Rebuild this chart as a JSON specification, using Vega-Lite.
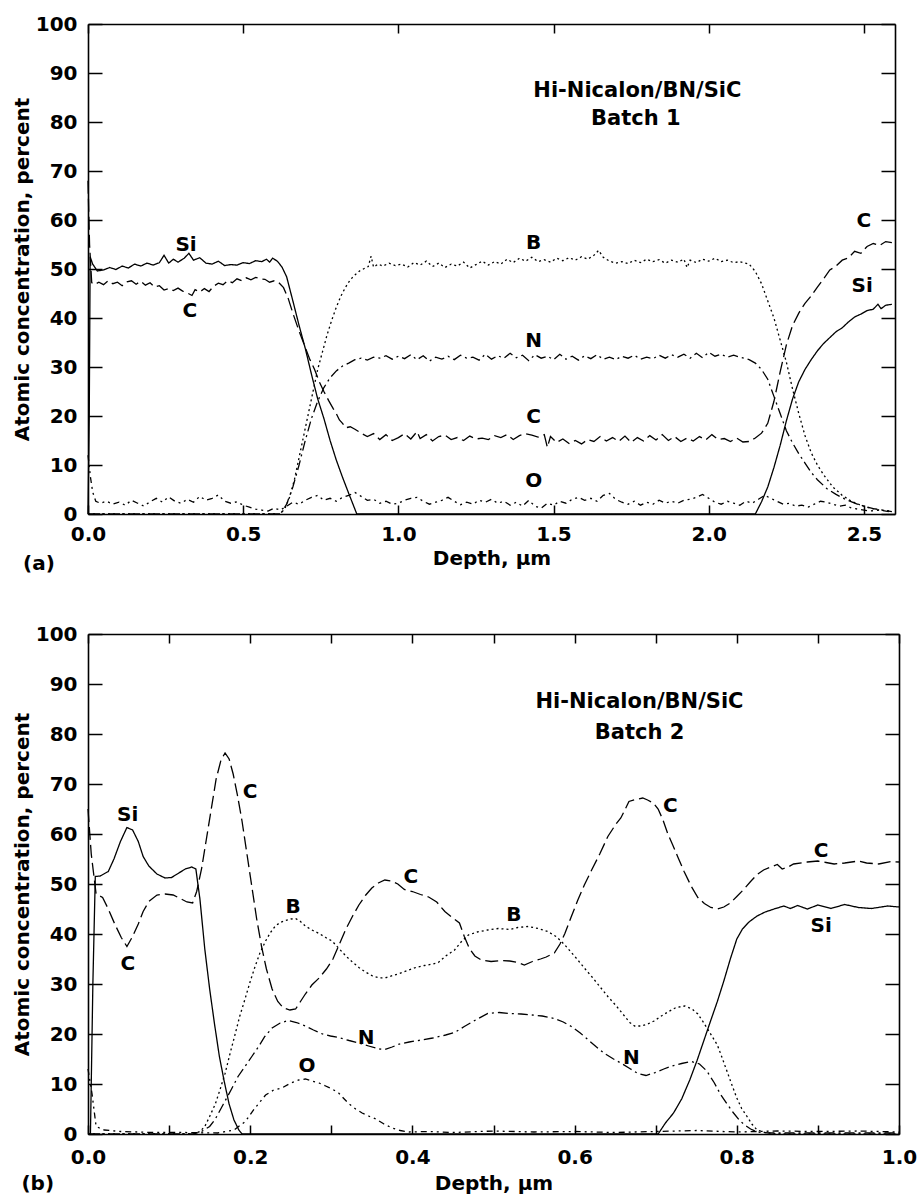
{
"$schema":"https://vega.github.io/schema/vega-lite/v6.json",
"background":"white",
"padding":{"left":12,"top":14,"right":5,"bottom":5},
"spacing":50,
"config":{"view":{"stroke":null},
"axis":{"domainColor":"black","domainWidth":1.6,"tickColor":"black","tickWidth":1.5,"grid":false,"labelFont":"DejaVu Sans","labelFontSize":20,"labelFontWeight":"bold","labelColor":"black","titleFont":"DejaVu Sans","titleFontSize":20,"titleFontWeight":"bold","titleColor":"black","labelFlush":false,"labelOverlap":false,"labelBound":false},
"text":{"font":"DejaVu Sans","fontWeight":"bold","fontSize":20,"color":"black"}},
"datasets":{
"a":[
{"x":0,"y":0,"el":"Si"},{"x":0.004,"y":20,"el":"Si"},{"x":0.007,"y":52.5,"el":"Si"},{"x":0.015,"y":51,"el":"Si"},{"x":0.03,"y":49.6,"el":"Si"},{"x":0.05,"y":49.8,"el":"Si"},{"x":0.07,"y":50.3,"el":"Si"},{"x":0.09,"y":49.9,"el":"Si"},{"x":0.11,"y":50.6,"el":"Si"},{"x":0.13,"y":50.2,"el":"Si"},{"x":0.15,"y":51,"el":"Si"},{"x":0.17,"y":50.6,"el":"Si"},{"x":0.19,"y":51.2,"el":"Si"},{"x":0.21,"y":50.8,"el":"Si"},{"x":0.23,"y":51.3,"el":"Si"},{"x":0.245,"y":52.8,"el":"Si"},{"x":0.26,"y":51.2,"el":"Si"},{"x":0.275,"y":52,"el":"Si"},{"x":0.29,"y":51.4,"el":"Si"},{"x":0.31,"y":52.2,"el":"Si"},{"x":0.325,"y":53.2,"el":"Si"},{"x":0.34,"y":51.8,"el":"Si"},{"x":0.36,"y":52.3,"el":"Si"},{"x":0.38,"y":51.2,"el":"Si"},{"x":0.4,"y":51,"el":"Si"},{"x":0.42,"y":51.6,"el":"Si"},{"x":0.44,"y":50.7,"el":"Si"},{"x":0.46,"y":50.9,"el":"Si"},{"x":0.48,"y":50.8,"el":"Si"},{"x":0.5,"y":51.3,"el":"Si"},{"x":0.52,"y":51.1,"el":"Si"},{"x":0.54,"y":51.7,"el":"Si"},{"x":0.56,"y":51.5,"el":"Si"},{"x":0.575,"y":52,"el":"Si"},{"x":0.585,"y":51.4,"el":"Si"},{"x":0.595,"y":52.2,"el":"Si"},{"x":0.61,"y":51.6,"el":"Si"},{"x":0.625,"y":50.4,"el":"Si"},{"x":0.64,"y":48.4,"el":"Si"},{"x":0.66,"y":43.5,"el":"Si"},{"x":0.68,"y":38.5,"el":"Si"},{"x":0.7,"y":33.8,"el":"Si"},{"x":0.72,"y":28.5,"el":"Si"},{"x":0.74,"y":23.5,"el":"Si"},{"x":0.76,"y":19.5,"el":"Si"},{"x":0.78,"y":15,"el":"Si"},{"x":0.8,"y":11,"el":"Si"},{"x":0.82,"y":7.5,"el":"Si"},{"x":0.84,"y":4.2,"el":"Si"},{"x":0.866,"y":0,"el":"Si"},{"x":2.15,"y":0,"el":"Si"},{"x":2.17,"y":2.5,"el":"Si"},{"x":2.19,"y":5.5,"el":"Si"},{"x":2.21,"y":9.5,"el":"Si"},{"x":2.23,"y":14,"el":"Si"},{"x":2.25,"y":19,"el":"Si"},{"x":2.27,"y":23.5,"el":"Si"},{"x":2.29,"y":27,"el":"Si"},{"x":2.31,"y":29.5,"el":"Si"},{"x":2.33,"y":31.5,"el":"Si"},{"x":2.35,"y":33.3,"el":"Si"},{"x":2.37,"y":34.8,"el":"Si"},{"x":2.39,"y":36,"el":"Si"},{"x":2.41,"y":37.2,"el":"Si"},{"x":2.43,"y":38,"el":"Si"},{"x":2.45,"y":39.2,"el":"Si"},{"x":2.47,"y":40.2,"el":"Si"},{"x":2.49,"y":40.8,"el":"Si"},{"x":2.51,"y":41.5,"el":"Si"},{"x":2.53,"y":41.8,"el":"Si"},{"x":2.545,"y":42.8,"el":"Si"},{"x":2.555,"y":41.9,"el":"Si"},{"x":2.57,"y":42.6,"el":"Si"},{"x":2.59,"y":42.8,"el":"Si"},
{"x":0,"y":68,"el":"C"},{"x":0.005,"y":55,"el":"C"},{"x":0.012,"y":47.2,"el":"C"},{"x":0.02,"y":46.8,"el":"C"},{"x":0.035,"y":47.3,"el":"C"},{"x":0.05,"y":46.8,"el":"C"},{"x":0.065,"y":47.6,"el":"C"},{"x":0.08,"y":47,"el":"C"},{"x":0.095,"y":47.3,"el":"C"},{"x":0.11,"y":46.6,"el":"C"},{"x":0.125,"y":47.4,"el":"C"},{"x":0.14,"y":47.6,"el":"C"},{"x":0.155,"y":46.9,"el":"C"},{"x":0.17,"y":47.5,"el":"C"},{"x":0.185,"y":46.7,"el":"C"},{"x":0.2,"y":47.2,"el":"C"},{"x":0.215,"y":46.3,"el":"C"},{"x":0.23,"y":46.6,"el":"C"},{"x":0.245,"y":45.7,"el":"C"},{"x":0.26,"y":46,"el":"C"},{"x":0.275,"y":45.6,"el":"C"},{"x":0.29,"y":46.1,"el":"C"},{"x":0.305,"y":45.5,"el":"C"},{"x":0.32,"y":45.1,"el":"C"},{"x":0.335,"y":44.6,"el":"C"},{"x":0.345,"y":45.8,"el":"C"},{"x":0.36,"y":45.3,"el":"C"},{"x":0.375,"y":46,"el":"C"},{"x":0.39,"y":45.4,"el":"C"},{"x":0.405,"y":46.5,"el":"C"},{"x":0.42,"y":47.1,"el":"C"},{"x":0.435,"y":46.8,"el":"C"},{"x":0.45,"y":47.6,"el":"C"},{"x":0.465,"y":47.2,"el":"C"},{"x":0.48,"y":48,"el":"C"},{"x":0.495,"y":47.6,"el":"C"},{"x":0.51,"y":48.2,"el":"C"},{"x":0.525,"y":47.8,"el":"C"},{"x":0.54,"y":48.3,"el":"C"},{"x":0.555,"y":48,"el":"C"},{"x":0.57,"y":47.9,"el":"C"},{"x":0.585,"y":47.3,"el":"C"},{"x":0.6,"y":47.6,"el":"C"},{"x":0.615,"y":47.2,"el":"C"},{"x":0.63,"y":46.2,"el":"C"},{"x":0.645,"y":44,"el":"C"},{"x":0.66,"y":41,"el":"C"},{"x":0.68,"y":37.3,"el":"C"},{"x":0.7,"y":34,"el":"C"},{"x":0.715,"y":31.5,"el":"C"},{"x":0.73,"y":29.5,"el":"C"},{"x":0.745,"y":27,"el":"C"},{"x":0.76,"y":25,"el":"C"},{"x":0.775,"y":23.2,"el":"C"},{"x":0.79,"y":21.5,"el":"C"},{"x":0.8,"y":20.5,"el":"C"},{"x":0.81,"y":19.2,"el":"C"},{"x":0.82,"y":18.5,"el":"C"},{"x":0.83,"y":17.6,"el":"C"},{"x":0.845,"y":17.8,"el":"C"},{"x":0.86,"y":17.3,"el":"C"},{"x":0.88,"y":16.5,"el":"C"},{"x":0.9,"y":15.8,"el":"C"},{"x":0.92,"y":16.4,"el":"C"},{"x":0.94,"y":15.2,"el":"C"},{"x":0.96,"y":16.2,"el":"C"},{"x":0.98,"y":15,"el":"C"},{"x":1.0,"y":15.6,"el":"C"},{"x":1.02,"y":16.4,"el":"C"},{"x":1.04,"y":15.3,"el":"C"},{"x":1.06,"y":16.8,"el":"C"},{"x":1.07,"y":15.4,"el":"C"},{"x":1.09,"y":16.2,"el":"C"},{"x":1.11,"y":14.9,"el":"C"},{"x":1.13,"y":15.8,"el":"C"},{"x":1.15,"y":16.1,"el":"C"},{"x":1.17,"y":15.2,"el":"C"},{"x":1.19,"y":15.6,"el":"C"},{"x":1.21,"y":15,"el":"C"},{"x":1.23,"y":15.9,"el":"C"},{"x":1.25,"y":15.3,"el":"C"},{"x":1.27,"y":15.5,"el":"C"},{"x":1.29,"y":15.2,"el":"C"},{"x":1.31,"y":16,"el":"C"},{"x":1.33,"y":15.6,"el":"C"},{"x":1.35,"y":16.2,"el":"C"},{"x":1.37,"y":15.2,"el":"C"},{"x":1.39,"y":16,"el":"C"},{"x":1.41,"y":16.4,"el":"C"},{"x":1.43,"y":16.1,"el":"C"},{"x":1.45,"y":15.7,"el":"C"},{"x":1.47,"y":16.2,"el":"C"},{"x":1.48,"y":13.6,"el":"C"},{"x":1.49,"y":15.8,"el":"C"},{"x":1.51,"y":14.6,"el":"C"},{"x":1.53,"y":15.3,"el":"C"},{"x":1.55,"y":14.4,"el":"C"},{"x":1.57,"y":15,"el":"C"},{"x":1.59,"y":14.3,"el":"C"},{"x":1.61,"y":15.2,"el":"C"},{"x":1.63,"y":14.8,"el":"C"},{"x":1.65,"y":15.8,"el":"C"},{"x":1.67,"y":14.9,"el":"C"},{"x":1.69,"y":15.6,"el":"C"},{"x":1.71,"y":14.8,"el":"C"},{"x":1.73,"y":15.9,"el":"C"},{"x":1.75,"y":14.6,"el":"C"},{"x":1.77,"y":15.6,"el":"C"},{"x":1.79,"y":14.9,"el":"C"},{"x":1.81,"y":16,"el":"C"},{"x":1.83,"y":15.1,"el":"C"},{"x":1.85,"y":16.2,"el":"C"},{"x":1.87,"y":15,"el":"C"},{"x":1.89,"y":15.8,"el":"C"},{"x":1.91,"y":14.8,"el":"C"},{"x":1.93,"y":15.5,"el":"C"},{"x":1.95,"y":14.9,"el":"C"},{"x":1.97,"y":15.8,"el":"C"},{"x":1.99,"y":15.1,"el":"C"},{"x":2.01,"y":16.2,"el":"C"},{"x":2.03,"y":15.2,"el":"C"},{"x":2.05,"y":15.4,"el":"C"},{"x":2.07,"y":14.8,"el":"C"},{"x":2.09,"y":15.5,"el":"C"},{"x":2.11,"y":14.7,"el":"C"},{"x":2.13,"y":14.8,"el":"C"},{"x":2.15,"y":15.5,"el":"C"},{"x":2.17,"y":16.5,"el":"C"},{"x":2.19,"y":18.5,"el":"C"},{"x":2.21,"y":23,"el":"C"},{"x":2.23,"y":29,"el":"C"},{"x":2.25,"y":34.5,"el":"C"},{"x":2.27,"y":38.5,"el":"C"},{"x":2.29,"y":41,"el":"C"},{"x":2.31,"y":43,"el":"C"},{"x":2.33,"y":44.5,"el":"C"},{"x":2.35,"y":46.3,"el":"C"},{"x":2.37,"y":48,"el":"C"},{"x":2.39,"y":49.8,"el":"C"},{"x":2.41,"y":50.6,"el":"C"},{"x":2.43,"y":51.8,"el":"C"},{"x":2.45,"y":52.3,"el":"C"},{"x":2.47,"y":53.6,"el":"C"},{"x":2.49,"y":53.2,"el":"C"},{"x":2.51,"y":54.6,"el":"C"},{"x":2.53,"y":55.2,"el":"C"},{"x":2.55,"y":54.8,"el":"C"},{"x":2.57,"y":55.6,"el":"C"},{"x":2.59,"y":55.4,"el":"C"},
{"x":0,"y":0,"el":"B"},{"x":0.62,"y":0,"el":"B"},{"x":0.635,"y":1.2,"el":"B"},{"x":0.65,"y":3.5,"el":"B"},{"x":0.665,"y":7,"el":"B"},{"x":0.68,"y":11.5,"el":"B"},{"x":0.695,"y":16,"el":"B"},{"x":0.71,"y":20.5,"el":"B"},{"x":0.725,"y":25,"el":"B"},{"x":0.74,"y":29.5,"el":"B"},{"x":0.755,"y":33,"el":"B"},{"x":0.77,"y":36.5,"el":"B"},{"x":0.785,"y":39.5,"el":"B"},{"x":0.8,"y":42.2,"el":"B"},{"x":0.815,"y":44.5,"el":"B"},{"x":0.83,"y":46.3,"el":"B"},{"x":0.845,"y":47.8,"el":"B"},{"x":0.86,"y":48.8,"el":"B"},{"x":0.875,"y":49.6,"el":"B"},{"x":0.89,"y":50.1,"el":"B"},{"x":0.903,"y":50.5,"el":"B"},{"x":0.912,"y":52.6,"el":"B"},{"x":0.92,"y":50.4,"el":"B"},{"x":0.935,"y":51,"el":"B"},{"x":0.95,"y":50.6,"el":"B"},{"x":0.97,"y":51.2,"el":"B"},{"x":0.99,"y":50.7,"el":"B"},{"x":1.01,"y":51,"el":"B"},{"x":1.03,"y":50.4,"el":"B"},{"x":1.05,"y":51.3,"el":"B"},{"x":1.07,"y":50.8,"el":"B"},{"x":1.09,"y":51.6,"el":"B"},{"x":1.11,"y":50.5,"el":"B"},{"x":1.13,"y":51.2,"el":"B"},{"x":1.15,"y":50.3,"el":"B"},{"x":1.17,"y":51,"el":"B"},{"x":1.19,"y":50.6,"el":"B"},{"x":1.21,"y":51.4,"el":"B"},{"x":1.23,"y":50.2,"el":"B"},{"x":1.25,"y":50.9,"el":"B"},{"x":1.27,"y":51.6,"el":"B"},{"x":1.29,"y":50.8,"el":"B"},{"x":1.31,"y":51.5,"el":"B"},{"x":1.33,"y":51,"el":"B"},{"x":1.35,"y":52,"el":"B"},{"x":1.37,"y":51.3,"el":"B"},{"x":1.39,"y":52.2,"el":"B"},{"x":1.41,"y":51.6,"el":"B"},{"x":1.43,"y":52.4,"el":"B"},{"x":1.45,"y":51.5,"el":"B"},{"x":1.47,"y":51.9,"el":"B"},{"x":1.49,"y":51.4,"el":"B"},{"x":1.51,"y":52.2,"el":"B"},{"x":1.53,"y":51.7,"el":"B"},{"x":1.55,"y":52.3,"el":"B"},{"x":1.57,"y":51.8,"el":"B"},{"x":1.59,"y":52.5,"el":"B"},{"x":1.61,"y":52,"el":"B"},{"x":1.63,"y":52.8,"el":"B"},{"x":1.645,"y":53.8,"el":"B"},{"x":1.66,"y":52.4,"el":"B"},{"x":1.68,"y":51.6,"el":"B"},{"x":1.7,"y":51.2,"el":"B"},{"x":1.72,"y":51.5,"el":"B"},{"x":1.74,"y":51.1,"el":"B"},{"x":1.76,"y":51.8,"el":"B"},{"x":1.78,"y":51.3,"el":"B"},{"x":1.8,"y":52,"el":"B"},{"x":1.82,"y":51.5,"el":"B"},{"x":1.84,"y":51.9,"el":"B"},{"x":1.86,"y":51.2,"el":"B"},{"x":1.88,"y":51.8,"el":"B"},{"x":1.9,"y":51.4,"el":"B"},{"x":1.92,"y":52,"el":"B"},{"x":1.93,"y":50.3,"el":"B"},{"x":1.94,"y":51.8,"el":"B"},{"x":1.96,"y":51.3,"el":"B"},{"x":1.98,"y":52,"el":"B"},{"x":2.0,"y":51.6,"el":"B"},{"x":2.02,"y":52.2,"el":"B"},{"x":2.04,"y":51.5,"el":"B"},{"x":2.06,"y":51.8,"el":"B"},{"x":2.08,"y":51.3,"el":"B"},{"x":2.1,"y":51.5,"el":"B"},{"x":2.13,"y":51,"el":"B"},{"x":2.15,"y":49.5,"el":"B"},{"x":2.17,"y":47,"el":"B"},{"x":2.19,"y":43.5,"el":"B"},{"x":2.21,"y":40,"el":"B"},{"x":2.23,"y":35.5,"el":"B"},{"x":2.25,"y":31,"el":"B"},{"x":2.27,"y":25.5,"el":"B"},{"x":2.29,"y":20.5,"el":"B"},{"x":2.31,"y":16,"el":"B"},{"x":2.33,"y":12.5,"el":"B"},{"x":2.35,"y":10,"el":"B"},{"x":2.37,"y":8,"el":"B"},{"x":2.4,"y":5.5,"el":"B"},{"x":2.43,"y":3.8,"el":"B"},{"x":2.46,"y":2.6,"el":"B"},{"x":2.49,"y":1.8,"el":"B"},{"x":2.52,"y":1.2,"el":"B"},{"x":2.55,"y":0.8,"el":"B"},{"x":2.59,"y":0.6,"el":"B"},
{"x":0,"y":0,"el":"N"},{"x":0.62,"y":0,"el":"N"},{"x":0.64,"y":2,"el":"N"},{"x":0.66,"y":5.5,"el":"N"},{"x":0.68,"y":10,"el":"N"},{"x":0.7,"y":15,"el":"N"},{"x":0.72,"y":19.5,"el":"N"},{"x":0.74,"y":23,"el":"N"},{"x":0.76,"y":25.8,"el":"N"},{"x":0.78,"y":27.8,"el":"N"},{"x":0.8,"y":29.2,"el":"N"},{"x":0.82,"y":30.2,"el":"N"},{"x":0.84,"y":30.8,"el":"N"},{"x":0.86,"y":31.5,"el":"N"},{"x":0.88,"y":31.8,"el":"N"},{"x":0.9,"y":31.4,"el":"N"},{"x":0.92,"y":32,"el":"N"},{"x":0.94,"y":31.8,"el":"N"},{"x":0.96,"y":32.3,"el":"N"},{"x":0.98,"y":31.6,"el":"N"},{"x":1.0,"y":32.2,"el":"N"},{"x":1.02,"y":31.7,"el":"N"},{"x":1.04,"y":32.5,"el":"N"},{"x":1.06,"y":31.5,"el":"N"},{"x":1.08,"y":32.3,"el":"N"},{"x":1.1,"y":31.2,"el":"N"},{"x":1.12,"y":32,"el":"N"},{"x":1.14,"y":31.6,"el":"N"},{"x":1.16,"y":32.2,"el":"N"},{"x":1.18,"y":31.5,"el":"N"},{"x":1.2,"y":32.4,"el":"N"},{"x":1.22,"y":31.8,"el":"N"},{"x":1.24,"y":32,"el":"N"},{"x":1.26,"y":31.4,"el":"N"},{"x":1.28,"y":32.6,"el":"N"},{"x":1.3,"y":31.6,"el":"N"},{"x":1.32,"y":32.3,"el":"N"},{"x":1.34,"y":31.8,"el":"N"},{"x":1.36,"y":32.8,"el":"N"},{"x":1.38,"y":31.9,"el":"N"},{"x":1.4,"y":32.4,"el":"N"},{"x":1.42,"y":31.3,"el":"N"},{"x":1.44,"y":32.5,"el":"N"},{"x":1.46,"y":31.8,"el":"N"},{"x":1.48,"y":32.2,"el":"N"},{"x":1.5,"y":31.5,"el":"N"},{"x":1.52,"y":32.6,"el":"N"},{"x":1.54,"y":31.6,"el":"N"},{"x":1.56,"y":32.2,"el":"N"},{"x":1.58,"y":31.4,"el":"N"},{"x":1.6,"y":32.3,"el":"N"},{"x":1.62,"y":31.7,"el":"N"},{"x":1.64,"y":32.5,"el":"N"},{"x":1.66,"y":31.6,"el":"N"},{"x":1.68,"y":32,"el":"N"},{"x":1.7,"y":31.5,"el":"N"},{"x":1.72,"y":32.2,"el":"N"},{"x":1.74,"y":31.8,"el":"N"},{"x":1.76,"y":32.4,"el":"N"},{"x":1.78,"y":31.6,"el":"N"},{"x":1.8,"y":32,"el":"N"},{"x":1.82,"y":31.7,"el":"N"},{"x":1.84,"y":32.4,"el":"N"},{"x":1.86,"y":31.8,"el":"N"},{"x":1.88,"y":32.5,"el":"N"},{"x":1.9,"y":32,"el":"N"},{"x":1.92,"y":32.6,"el":"N"},{"x":1.94,"y":31.8,"el":"N"},{"x":1.96,"y":32.8,"el":"N"},{"x":1.98,"y":31.9,"el":"N"},{"x":2.0,"y":33,"el":"N"},{"x":2.02,"y":32.2,"el":"N"},{"x":2.04,"y":32.6,"el":"N"},{"x":2.06,"y":32,"el":"N"},{"x":2.08,"y":32.4,"el":"N"},{"x":2.1,"y":32,"el":"N"},{"x":2.13,"y":31.5,"el":"N"},{"x":2.15,"y":30.8,"el":"N"},{"x":2.17,"y":29.5,"el":"N"},{"x":2.19,"y":27.5,"el":"N"},{"x":2.21,"y":24,"el":"N"},{"x":2.23,"y":20.5,"el":"N"},{"x":2.25,"y":17,"el":"N"},{"x":2.27,"y":14.5,"el":"N"},{"x":2.29,"y":12.3,"el":"N"},{"x":2.31,"y":10.4,"el":"N"},{"x":2.33,"y":8.5,"el":"N"},{"x":2.35,"y":7,"el":"N"},{"x":2.38,"y":5.2,"el":"N"},{"x":2.41,"y":4,"el":"N"},{"x":2.44,"y":3,"el":"N"},{"x":2.47,"y":2.2,"el":"N"},{"x":2.5,"y":1.6,"el":"N"},{"x":2.53,"y":1.1,"el":"N"},{"x":2.56,"y":0.8,"el":"N"},{"x":2.59,"y":0.5,"el":"N"},
{"x":0,"y":12,"el":"O"},{"x":0.008,"y":7.5,"el":"O"},{"x":0.015,"y":4.5,"el":"O"},{"x":0.025,"y":2.6,"el":"O"},{"x":0.04,"y":2.2,"el":"O"},{"x":0.06,"y":2.6,"el":"O"},{"x":0.08,"y":2,"el":"O"},{"x":0.1,"y":2.4,"el":"O"},{"x":0.12,"y":1.8,"el":"O"},{"x":0.14,"y":2.8,"el":"O"},{"x":0.16,"y":2.2,"el":"O"},{"x":0.18,"y":1.6,"el":"O"},{"x":0.2,"y":2.5,"el":"O"},{"x":0.22,"y":3.2,"el":"O"},{"x":0.24,"y":2.4,"el":"O"},{"x":0.26,"y":3.5,"el":"O"},{"x":0.28,"y":2.6,"el":"O"},{"x":0.3,"y":2.2,"el":"O"},{"x":0.32,"y":3,"el":"O"},{"x":0.34,"y":2.4,"el":"O"},{"x":0.36,"y":3.6,"el":"O"},{"x":0.38,"y":2.8,"el":"O"},{"x":0.4,"y":3.2,"el":"O"},{"x":0.42,"y":3.9,"el":"O"},{"x":0.44,"y":2.6,"el":"O"},{"x":0.46,"y":2.2,"el":"O"},{"x":0.48,"y":2.5,"el":"O"},{"x":0.5,"y":1.8,"el":"O"},{"x":0.52,"y":1.4,"el":"O"},{"x":0.54,"y":1,"el":"O"},{"x":0.56,"y":0.8,"el":"O"},{"x":0.58,"y":0.6,"el":"O"},{"x":0.6,"y":1.2,"el":"O"},{"x":0.62,"y":0.8,"el":"O"},{"x":0.64,"y":1.6,"el":"O"},{"x":0.66,"y":2.4,"el":"O"},{"x":0.68,"y":2,"el":"O"},{"x":0.7,"y":2.8,"el":"O"},{"x":0.72,"y":3.4,"el":"O"},{"x":0.74,"y":3.8,"el":"O"},{"x":0.76,"y":2.8,"el":"O"},{"x":0.78,"y":3.2,"el":"O"},{"x":0.8,"y":2.6,"el":"O"},{"x":0.82,"y":3.4,"el":"O"},{"x":0.84,"y":3.8,"el":"O"},{"x":0.86,"y":4.4,"el":"O"},{"x":0.88,"y":3.6,"el":"O"},{"x":0.9,"y":2.8,"el":"O"},{"x":0.92,"y":3,"el":"O"},{"x":0.94,"y":2.2,"el":"O"},{"x":0.96,"y":2.6,"el":"O"},{"x":0.98,"y":2,"el":"O"},{"x":1.0,"y":2.2,"el":"O"},{"x":1.02,"y":2.8,"el":"O"},{"x":1.04,"y":3.2,"el":"O"},{"x":1.06,"y":3.4,"el":"O"},{"x":1.08,"y":2.6,"el":"O"},{"x":1.1,"y":2,"el":"O"},{"x":1.12,"y":2.4,"el":"O"},{"x":1.14,"y":2.8,"el":"O"},{"x":1.16,"y":3.4,"el":"O"},{"x":1.18,"y":2.6,"el":"O"},{"x":1.2,"y":1.9,"el":"O"},{"x":1.22,"y":2.4,"el":"O"},{"x":1.24,"y":2,"el":"O"},{"x":1.26,"y":2.8,"el":"O"},{"x":1.28,"y":2.4,"el":"O"},{"x":1.3,"y":3,"el":"O"},{"x":1.32,"y":2.2,"el":"O"},{"x":1.34,"y":2.6,"el":"O"},{"x":1.36,"y":1.8,"el":"O"},{"x":1.38,"y":2.4,"el":"O"},{"x":1.4,"y":1.6,"el":"O"},{"x":1.42,"y":2.8,"el":"O"},{"x":1.44,"y":1.6,"el":"O"},{"x":1.46,"y":1.2,"el":"O"},{"x":1.48,"y":2.2,"el":"O"},{"x":1.5,"y":1.8,"el":"O"},{"x":1.52,"y":2.6,"el":"O"},{"x":1.54,"y":2.2,"el":"O"},{"x":1.56,"y":3,"el":"O"},{"x":1.58,"y":3.4,"el":"O"},{"x":1.6,"y":2.8,"el":"O"},{"x":1.62,"y":3.2,"el":"O"},{"x":1.64,"y":2.6,"el":"O"},{"x":1.66,"y":3.8,"el":"O"},{"x":1.68,"y":4.2,"el":"O"},{"x":1.7,"y":3,"el":"O"},{"x":1.72,"y":2.4,"el":"O"},{"x":1.74,"y":2,"el":"O"},{"x":1.76,"y":2.6,"el":"O"},{"x":1.78,"y":1.8,"el":"O"},{"x":1.8,"y":2.4,"el":"O"},{"x":1.82,"y":2,"el":"O"},{"x":1.84,"y":2.8,"el":"O"},{"x":1.86,"y":2.2,"el":"O"},{"x":1.88,"y":2.6,"el":"O"},{"x":1.9,"y":2.2,"el":"O"},{"x":1.92,"y":2.8,"el":"O"},{"x":1.94,"y":3,"el":"O"},{"x":1.96,"y":3.4,"el":"O"},{"x":1.98,"y":4,"el":"O"},{"x":2.0,"y":3.2,"el":"O"},{"x":2.02,"y":2.4,"el":"O"},{"x":2.04,"y":2,"el":"O"},{"x":2.06,"y":2.6,"el":"O"},{"x":2.08,"y":2.2,"el":"O"},{"x":2.1,"y":1.8,"el":"O"},{"x":2.12,"y":2.6,"el":"O"},{"x":2.14,"y":2.2,"el":"O"},{"x":2.16,"y":3,"el":"O"},{"x":2.18,"y":3.8,"el":"O"},{"x":2.2,"y":3.2,"el":"O"},{"x":2.22,"y":2.6,"el":"O"},{"x":2.24,"y":2,"el":"O"},{"x":2.26,"y":2.2,"el":"O"},{"x":2.28,"y":1.6,"el":"O"},{"x":2.3,"y":1.8,"el":"O"},{"x":2.32,"y":1.4,"el":"O"},{"x":2.34,"y":2,"el":"O"},{"x":2.36,"y":2.6,"el":"O"},{"x":2.38,"y":2.4,"el":"O"},{"x":2.4,"y":2,"el":"O"},{"x":2.42,"y":1.6,"el":"O"},{"x":2.44,"y":1.8,"el":"O"},{"x":2.46,"y":1.2,"el":"O"},{"x":2.48,"y":1,"el":"O"},{"x":2.5,"y":0.8,"el":"O"},{"x":2.52,"y":0.6,"el":"O"},{"x":2.55,"y":0.8,"el":"O"},{"x":2.59,"y":0.4,"el":"O"}
],
"b":[
{"x":0,"y":0,"el":"Si"},{"x":0.003,"y":0,"el":"Si"},{"x":0.006,"y":30,"el":"Si"},{"x":0.009,"y":51.5,"el":"Si"},{"x":0.015,"y":51.6,"el":"Si"},{"x":0.025,"y":52.5,"el":"Si"},{"x":0.032,"y":55,"el":"Si"},{"x":0.04,"y":58.5,"el":"Si"},{"x":0.048,"y":61.3,"el":"Si"},{"x":0.055,"y":60.8,"el":"Si"},{"x":0.062,"y":58.5,"el":"Si"},{"x":0.068,"y":55.5,"el":"Si"},{"x":0.075,"y":53.6,"el":"Si"},{"x":0.085,"y":52,"el":"Si"},{"x":0.095,"y":51.2,"el":"Si"},{"x":0.103,"y":51.3,"el":"Si"},{"x":0.112,"y":52.2,"el":"Si"},{"x":0.12,"y":53,"el":"Si"},{"x":0.128,"y":53.4,"el":"Si"},{"x":0.133,"y":53,"el":"Si"},{"x":0.138,"y":47,"el":"Si"},{"x":0.144,"y":37,"el":"Si"},{"x":0.15,"y":29,"el":"Si"},{"x":0.156,"y":22,"el":"Si"},{"x":0.162,"y":15.5,"el":"Si"},{"x":0.168,"y":10.5,"el":"Si"},{"x":0.174,"y":6,"el":"Si"},{"x":0.18,"y":2.8,"el":"Si"},{"x":0.186,"y":0.8,"el":"Si"},{"x":0.19,"y":0,"el":"Si"},{"x":0.703,"y":0,"el":"Si"},{"x":0.712,"y":2.2,"el":"Si"},{"x":0.722,"y":4.2,"el":"Si"},{"x":0.732,"y":7,"el":"Si"},{"x":0.742,"y":10.8,"el":"Si"},{"x":0.751,"y":14.7,"el":"Si"},{"x":0.759,"y":18.5,"el":"Si"},{"x":0.767,"y":22.3,"el":"Si"},{"x":0.776,"y":26.5,"el":"Si"},{"x":0.784,"y":30.6,"el":"Si"},{"x":0.792,"y":35,"el":"Si"},{"x":0.8,"y":39,"el":"Si"},{"x":0.807,"y":41,"el":"Si"},{"x":0.815,"y":42.4,"el":"Si"},{"x":0.825,"y":43.6,"el":"Si"},{"x":0.835,"y":44.4,"el":"Si"},{"x":0.846,"y":45,"el":"Si"},{"x":0.858,"y":45.6,"el":"Si"},{"x":0.866,"y":45.1,"el":"Si"},{"x":0.875,"y":45.7,"el":"Si"},{"x":0.887,"y":45,"el":"Si"},{"x":0.9,"y":45.8,"el":"Si"},{"x":0.916,"y":45.1,"el":"Si"},{"x":0.933,"y":45.9,"el":"Si"},{"x":0.95,"y":45.3,"el":"Si"},{"x":0.966,"y":45.1,"el":"Si"},{"x":0.986,"y":45.6,"el":"Si"},{"x":1.0,"y":45.4,"el":"Si"},
{"x":0,"y":65,"el":"C"},{"x":0.004,"y":56,"el":"C"},{"x":0.01,"y":48,"el":"C"},{"x":0.018,"y":47.3,"el":"C"},{"x":0.025,"y":45,"el":"C"},{"x":0.033,"y":42,"el":"C"},{"x":0.041,"y":39.3,"el":"C"},{"x":0.048,"y":37.5,"el":"C"},{"x":0.055,"y":39.5,"el":"C"},{"x":0.062,"y":42,"el":"C"},{"x":0.068,"y":44.5,"el":"C"},{"x":0.075,"y":46.5,"el":"C"},{"x":0.085,"y":47.8,"el":"C"},{"x":0.095,"y":48,"el":"C"},{"x":0.105,"y":47.8,"el":"C"},{"x":0.115,"y":47,"el":"C"},{"x":0.122,"y":46.4,"el":"C"},{"x":0.129,"y":46.2,"el":"C"},{"x":0.134,"y":48.5,"el":"C"},{"x":0.14,"y":53,"el":"C"},{"x":0.146,"y":59,"el":"C"},{"x":0.152,"y":65,"el":"C"},{"x":0.158,"y":71,"el":"C"},{"x":0.164,"y":74.8,"el":"C"},{"x":0.169,"y":76.2,"el":"C"},{"x":0.174,"y":75,"el":"C"},{"x":0.179,"y":72,"el":"C"},{"x":0.184,"y":68,"el":"C"},{"x":0.19,"y":62.5,"el":"C"},{"x":0.196,"y":56,"el":"C"},{"x":0.202,"y":49.5,"el":"C"},{"x":0.208,"y":43,"el":"C"},{"x":0.214,"y":37.5,"el":"C"},{"x":0.22,"y":33,"el":"C"},{"x":0.227,"y":29,"el":"C"},{"x":0.234,"y":26.5,"el":"C"},{"x":0.241,"y":25.2,"el":"C"},{"x":0.249,"y":24.8,"el":"C"},{"x":0.256,"y":25,"el":"C"},{"x":0.262,"y":26.5,"el":"C"},{"x":0.268,"y":28,"el":"C"},{"x":0.276,"y":29.8,"el":"C"},{"x":0.285,"y":31.2,"el":"C"},{"x":0.294,"y":33,"el":"C"},{"x":0.302,"y":35,"el":"C"},{"x":0.31,"y":38,"el":"C"},{"x":0.318,"y":41,"el":"C"},{"x":0.326,"y":43.5,"el":"C"},{"x":0.334,"y":45.8,"el":"C"},{"x":0.342,"y":47.7,"el":"C"},{"x":0.35,"y":49.2,"el":"C"},{"x":0.358,"y":50.2,"el":"C"},{"x":0.366,"y":50.8,"el":"C"},{"x":0.374,"y":50.6,"el":"C"},{"x":0.382,"y":50,"el":"C"},{"x":0.39,"y":48.9,"el":"C"},{"x":0.4,"y":48.5,"el":"C"},{"x":0.41,"y":47.9,"el":"C"},{"x":0.42,"y":47.4,"el":"C"},{"x":0.43,"y":46.4,"el":"C"},{"x":0.44,"y":44.5,"el":"C"},{"x":0.45,"y":43.2,"el":"C"},{"x":0.458,"y":42.2,"el":"C"},{"x":0.464,"y":39.5,"el":"C"},{"x":0.47,"y":37.2,"el":"C"},{"x":0.477,"y":35.6,"el":"C"},{"x":0.485,"y":34.8,"el":"C"},{"x":0.497,"y":34.5,"el":"C"},{"x":0.51,"y":34.7,"el":"C"},{"x":0.52,"y":34.6,"el":"C"},{"x":0.53,"y":34.3,"el":"C"},{"x":0.538,"y":33.8,"el":"C"},{"x":0.548,"y":34.5,"el":"C"},{"x":0.558,"y":35,"el":"C"},{"x":0.565,"y":35.4,"el":"C"},{"x":0.575,"y":36.2,"el":"C"},{"x":0.582,"y":38,"el":"C"},{"x":0.588,"y":40.1,"el":"C"},{"x":0.596,"y":43.5,"el":"C"},{"x":0.604,"y":46.8,"el":"C"},{"x":0.612,"y":49.8,"el":"C"},{"x":0.621,"y":52.8,"el":"C"},{"x":0.631,"y":56,"el":"C"},{"x":0.641,"y":59.5,"el":"C"},{"x":0.651,"y":62,"el":"C"},{"x":0.657,"y":63.2,"el":"C"},{"x":0.662,"y":64.8,"el":"C"},{"x":0.667,"y":66.5,"el":"C"},{"x":0.675,"y":66.9,"el":"C"},{"x":0.684,"y":67.2,"el":"C"},{"x":0.69,"y":66.8,"el":"C"},{"x":0.697,"y":66.2,"el":"C"},{"x":0.703,"y":65,"el":"C"},{"x":0.709,"y":62.8,"el":"C"},{"x":0.715,"y":60,"el":"C"},{"x":0.721,"y":57.8,"el":"C"},{"x":0.727,"y":55.5,"el":"C"},{"x":0.735,"y":52.5,"el":"C"},{"x":0.744,"y":49.5,"el":"C"},{"x":0.752,"y":47.3,"el":"C"},{"x":0.76,"y":46.1,"el":"C"},{"x":0.768,"y":45.3,"el":"C"},{"x":0.776,"y":45,"el":"C"},{"x":0.784,"y":45.4,"el":"C"},{"x":0.792,"y":46.2,"el":"C"},{"x":0.8,"y":47.5,"el":"C"},{"x":0.809,"y":49,"el":"C"},{"x":0.817,"y":50.5,"el":"C"},{"x":0.825,"y":51.9,"el":"C"},{"x":0.833,"y":52.8,"el":"C"},{"x":0.842,"y":53.4,"el":"C"},{"x":0.85,"y":53.9,"el":"C"},{"x":0.856,"y":53,"el":"C"},{"x":0.862,"y":53.3,"el":"C"},{"x":0.87,"y":54,"el":"C"},{"x":0.887,"y":54.4,"el":"C"},{"x":0.9,"y":54.6,"el":"C"},{"x":0.91,"y":54.3,"el":"C"},{"x":0.92,"y":54,"el":"C"},{"x":0.933,"y":54.2,"el":"C"},{"x":0.95,"y":54.6,"el":"C"},{"x":0.96,"y":54.2,"el":"C"},{"x":0.975,"y":54,"el":"C"},{"x":0.99,"y":54.5,"el":"C"},{"x":1.0,"y":54.4,"el":"C"},
{"x":0,"y":0,"el":"B"},{"x":0.13,"y":0,"el":"B"},{"x":0.138,"y":0.5,"el":"B"},{"x":0.144,"y":1.5,"el":"B"},{"x":0.15,"y":3.5,"el":"B"},{"x":0.157,"y":6,"el":"B"},{"x":0.163,"y":9,"el":"B"},{"x":0.169,"y":12.1,"el":"B"},{"x":0.175,"y":16,"el":"B"},{"x":0.181,"y":19.7,"el":"B"},{"x":0.187,"y":23.5,"el":"B"},{"x":0.194,"y":27.2,"el":"B"},{"x":0.2,"y":30.5,"el":"B"},{"x":0.206,"y":33.5,"el":"B"},{"x":0.212,"y":36.2,"el":"B"},{"x":0.219,"y":38.6,"el":"B"},{"x":0.225,"y":40.3,"el":"B"},{"x":0.231,"y":41.6,"el":"B"},{"x":0.237,"y":42.3,"el":"B"},{"x":0.243,"y":42.7,"el":"B"},{"x":0.25,"y":43,"el":"B"},{"x":0.256,"y":43.1,"el":"B"},{"x":0.262,"y":42.5,"el":"B"},{"x":0.268,"y":41.6,"el":"B"},{"x":0.276,"y":40.8,"el":"B"},{"x":0.285,"y":40.1,"el":"B"},{"x":0.293,"y":39.3,"el":"B"},{"x":0.301,"y":38.6,"el":"B"},{"x":0.31,"y":37,"el":"B"},{"x":0.318,"y":35.6,"el":"B"},{"x":0.326,"y":34.4,"el":"B"},{"x":0.334,"y":33.3,"el":"B"},{"x":0.342,"y":32.4,"el":"B"},{"x":0.351,"y":31.6,"el":"B"},{"x":0.36,"y":31.2,"el":"B"},{"x":0.368,"y":31.3,"el":"B"},{"x":0.376,"y":31.7,"el":"B"},{"x":0.384,"y":32.1,"el":"B"},{"x":0.394,"y":32.7,"el":"B"},{"x":0.404,"y":33.3,"el":"B"},{"x":0.415,"y":33.7,"el":"B"},{"x":0.425,"y":34,"el":"B"},{"x":0.432,"y":34.3,"el":"B"},{"x":0.441,"y":35.6,"el":"B"},{"x":0.452,"y":36.8,"el":"B"},{"x":0.46,"y":38.4,"el":"B"},{"x":0.469,"y":39.8,"el":"B"},{"x":0.48,"y":40.4,"el":"B"},{"x":0.493,"y":40.8,"el":"B"},{"x":0.506,"y":41.1,"el":"B"},{"x":0.52,"y":40.9,"el":"B"},{"x":0.53,"y":41.3,"el":"B"},{"x":0.543,"y":41.5,"el":"B"},{"x":0.555,"y":41.1,"el":"B"},{"x":0.567,"y":40.5,"el":"B"},{"x":0.578,"y":39.4,"el":"B"},{"x":0.588,"y":37.8,"el":"B"},{"x":0.596,"y":36.3,"el":"B"},{"x":0.604,"y":34.8,"el":"B"},{"x":0.612,"y":33.2,"el":"B"},{"x":0.621,"y":31.5,"el":"B"},{"x":0.631,"y":29.5,"el":"B"},{"x":0.641,"y":27.5,"el":"B"},{"x":0.652,"y":25.5,"el":"B"},{"x":0.662,"y":23.5,"el":"B"},{"x":0.668,"y":22.3,"el":"B"},{"x":0.674,"y":21.6,"el":"B"},{"x":0.682,"y":21.6,"el":"B"},{"x":0.69,"y":22,"el":"B"},{"x":0.698,"y":22.6,"el":"B"},{"x":0.706,"y":23.5,"el":"B"},{"x":0.715,"y":24.4,"el":"B"},{"x":0.725,"y":25.3,"el":"B"},{"x":0.736,"y":25.6,"el":"B"},{"x":0.745,"y":25,"el":"B"},{"x":0.752,"y":24,"el":"B"},{"x":0.759,"y":22.3,"el":"B"},{"x":0.767,"y":20.2,"el":"B"},{"x":0.776,"y":17.8,"el":"B"},{"x":0.782,"y":15.2,"el":"B"},{"x":0.788,"y":12.5,"el":"B"},{"x":0.794,"y":9.8,"el":"B"},{"x":0.8,"y":7.2,"el":"B"},{"x":0.806,"y":5.1,"el":"B"},{"x":0.813,"y":3.4,"el":"B"},{"x":0.819,"y":1.9,"el":"B"},{"x":0.825,"y":0.8,"el":"B"},{"x":0.835,"y":0.3,"el":"B"},{"x":0.85,"y":0,"el":"B"},{"x":1.0,"y":0,"el":"B"},
{"x":0,"y":0,"el":"N"},{"x":0.13,"y":0,"el":"N"},{"x":0.14,"y":0.5,"el":"N"},{"x":0.15,"y":1.5,"el":"N"},{"x":0.157,"y":3,"el":"N"},{"x":0.167,"y":6,"el":"N"},{"x":0.177,"y":9,"el":"N"},{"x":0.185,"y":11.5,"el":"N"},{"x":0.194,"y":13.6,"el":"N"},{"x":0.202,"y":15.5,"el":"N"},{"x":0.21,"y":17.4,"el":"N"},{"x":0.218,"y":19.5,"el":"N"},{"x":0.227,"y":21.2,"el":"N"},{"x":0.237,"y":22.2,"el":"N"},{"x":0.247,"y":22.7,"el":"N"},{"x":0.257,"y":22.3,"el":"N"},{"x":0.268,"y":21.6,"el":"N"},{"x":0.278,"y":20.8,"el":"N"},{"x":0.289,"y":20,"el":"N"},{"x":0.299,"y":19.6,"el":"N"},{"x":0.309,"y":19.3,"el":"N"},{"x":0.322,"y":18.7,"el":"N"},{"x":0.334,"y":18.2,"el":"N"},{"x":0.346,"y":17.6,"el":"N"},{"x":0.359,"y":17,"el":"N"},{"x":0.366,"y":16.9,"el":"N"},{"x":0.375,"y":17.4,"el":"N"},{"x":0.384,"y":18,"el":"N"},{"x":0.396,"y":18.4,"el":"N"},{"x":0.411,"y":18.8,"el":"N"},{"x":0.425,"y":19.2,"el":"N"},{"x":0.441,"y":19.8,"el":"N"},{"x":0.452,"y":20.3,"el":"N"},{"x":0.464,"y":21.5,"el":"N"},{"x":0.478,"y":22.8,"el":"N"},{"x":0.493,"y":24.1,"el":"N"},{"x":0.507,"y":24.3,"el":"N"},{"x":0.52,"y":24.1,"el":"N"},{"x":0.534,"y":24,"el":"N"},{"x":0.547,"y":23.8,"el":"N"},{"x":0.56,"y":23.6,"el":"N"},{"x":0.575,"y":23.1,"el":"N"},{"x":0.586,"y":22.4,"el":"N"},{"x":0.596,"y":21.5,"el":"N"},{"x":0.607,"y":20.2,"el":"N"},{"x":0.617,"y":18.8,"el":"N"},{"x":0.627,"y":17.4,"el":"N"},{"x":0.637,"y":16.1,"el":"N"},{"x":0.648,"y":15,"el":"N"},{"x":0.658,"y":14.1,"el":"N"},{"x":0.668,"y":13.1,"el":"N"},{"x":0.678,"y":12.1,"el":"N"},{"x":0.688,"y":11.7,"el":"N"},{"x":0.698,"y":12.2,"el":"N"},{"x":0.71,"y":13,"el":"N"},{"x":0.72,"y":13.6,"el":"N"},{"x":0.732,"y":14.1,"el":"N"},{"x":0.744,"y":14.5,"el":"N"},{"x":0.754,"y":14,"el":"N"},{"x":0.763,"y":12.6,"el":"N"},{"x":0.772,"y":10.3,"el":"N"},{"x":0.78,"y":7.9,"el":"N"},{"x":0.788,"y":6,"el":"N"},{"x":0.796,"y":4.2,"el":"N"},{"x":0.803,"y":2.8,"el":"N"},{"x":0.809,"y":1.9,"el":"N"},{"x":0.817,"y":1,"el":"N"},{"x":0.825,"y":0.4,"el":"N"},{"x":0.84,"y":0.2,"el":"N"},{"x":1.0,"y":0.2,"el":"N"},
{"x":0,"y":13,"el":"O"},{"x":0.005,"y":8,"el":"O"},{"x":0.01,"y":1.5,"el":"O"},{"x":0.02,"y":0.8,"el":"O"},{"x":0.04,"y":0.5,"el":"O"},{"x":0.08,"y":0.3,"el":"O"},{"x":0.12,"y":0.3,"el":"O"},{"x":0.16,"y":0.2,"el":"O"},{"x":0.18,"y":0.8,"el":"O"},{"x":0.194,"y":2.5,"el":"O"},{"x":0.205,"y":5,"el":"O"},{"x":0.219,"y":7.8,"el":"O"},{"x":0.229,"y":8.8,"el":"O"},{"x":0.239,"y":9.2,"el":"O"},{"x":0.25,"y":10.2,"el":"O"},{"x":0.26,"y":10.8,"el":"O"},{"x":0.268,"y":11,"el":"O"},{"x":0.276,"y":10.6,"el":"O"},{"x":0.285,"y":10.2,"el":"O"},{"x":0.293,"y":9.6,"el":"O"},{"x":0.301,"y":9,"el":"O"},{"x":0.309,"y":8.2,"el":"O"},{"x":0.316,"y":7,"el":"O"},{"x":0.322,"y":6,"el":"O"},{"x":0.33,"y":5,"el":"O"},{"x":0.338,"y":4.2,"el":"O"},{"x":0.346,"y":3.6,"el":"O"},{"x":0.355,"y":3,"el":"O"},{"x":0.365,"y":2,"el":"O"},{"x":0.375,"y":1.2,"el":"O"},{"x":0.385,"y":0.7,"el":"O"},{"x":0.396,"y":0.4,"el":"O"},{"x":0.42,"y":0.5,"el":"O"},{"x":0.45,"y":0.3,"el":"O"},{"x":0.5,"y":0.6,"el":"O"},{"x":0.55,"y":0.4,"el":"O"},{"x":0.6,"y":0.5,"el":"O"},{"x":0.65,"y":0.3,"el":"O"},{"x":0.7,"y":0.5,"el":"O"},{"x":0.75,"y":0.7,"el":"O"},{"x":0.8,"y":0.4,"el":"O"},{"x":0.85,"y":0.6,"el":"O"},{"x":0.9,"y":0.5,"el":"O"},{"x":0.95,"y":0.6,"el":"O"},{"x":1.0,"y":0.4,"el":"O"}
],
"la":[{"x":0.316,"y":55,"t":"Si"},{"x":0.328,"y":41.5,"t":"C"},{"x":1.436,"y":55.4,"t":"B"},{"x":1.436,"y":35.4,"t":"N"},{"x":1.436,"y":19.8,"t":"C"},{"x":1.436,"y":6.8,"t":"O"},{"x":2.5,"y":59.8,"t":"C"},{"x":2.494,"y":46.5,"t":"Si"},{"x":1.77,"y":86.4,"t":"Hi-Nicalon/BN/SiC"},{"x":1.765,"y":80.6,"t":"Batch 1"},{"x":-0.158,"y":-10.2,"t":"(a)"}],
"lb":[{"x":0.049,"y":63.8,"t":"Si"},{"x":0.049,"y":34,"t":"C"},{"x":0.2,"y":68.5,"t":"C"},{"x":0.253,"y":45.5,"t":"B"},{"x":0.398,"y":51.5,"t":"C"},{"x":0.343,"y":19.3,"t":"N"},{"x":0.27,"y":13.6,"t":"O"},{"x":0.525,"y":43.9,"t":"B"},{"x":0.718,"y":65.6,"t":"C"},{"x":0.904,"y":56.6,"t":"C"},{"x":0.904,"y":41.7,"t":"Si"},{"x":0.67,"y":15.3,"t":"N"},{"x":0.68,"y":86.4,"t":"Hi-Nicalon/BN/SiC"},{"x":0.68,"y":80.3,"t":"Batch 2"},{"x":-0.062,"y":-10,"t":"(b)"}],
"one":[{"x":0,"y":0}]
},
"vconcat":[
{"width":807,"height":490,
"layer":[
{"data":{"name":"a"},"mark":{"type":"line","strokeWidth":1.3,"color":"black"},
"encoding":{
"x":{"field":"x","type":"quantitative","scale":{"domain":[0,2.6],"nice":false,"zero":false},"axis":{"orient":"bottom","values":[0,0.5,1,1.5,2,2.5],"format":".1f","title":"Depth, μm","tickSize":-9,"labelPadding":19,"titlePadding":4}},
"y":{"field":"y","type":"quantitative","scale":{"domain":[0,100],"nice":false},"axis":{"orient":"left","values":[0,10,20,30,40,50,60,70,80,90,100],"title":"Atomic concentration, percent","tickSize":-14,"labelPadding":25,"titlePadding":3}},
"strokeDash":{"field":"el","type":"nominal","scale":{"domain":["Si","C","B","N","O"],"range":[[1,0],[13,5],[2,3],[10,4,2,4],[6,4,2,4,2,4]]},"legend":null}}},
{"data":{"name":"la"},"mark":{"type":"text"},
"encoding":{"x":{"field":"x","type":"quantitative","axis":null},"y":{"field":"y","type":"quantitative","axis":null},"text":{"field":"t"},
"size":{"condition":{"test":"length(datum.t)>3 && datum.t!='(a)'","value":21},"value":20}}},
{"data":{"name":"one"},"mark":{"type":"point","opacity":0},
"encoding":{"x":{"field":"x","type":"quantitative","axis":{"orient":"top","values":[0,0.5,1,1.5,2,2.5],"labels":false,"title":null,"tickSize":-9}},"y":{"field":"y","type":"quantitative","axis":{"orient":"right","values":[0,10,20,30,40,50,60,70,80,90,100],"labels":false,"title":null,"tickSize":-14}}}}
],
"resolve":{"axis":{"x":"independent","y":"independent"}}},
{"width":811,"height":500,
"layer":[
{"data":{"name":"b"},"mark":{"type":"line","strokeWidth":1.3,"color":"black"},
"encoding":{
"x":{"field":"x","type":"quantitative","scale":{"domain":[0,1],"nice":false,"zero":false},"axis":{"orient":"bottom","values":[0,0.1,0.2,0.3,0.4,0.5,0.6,0.7,0.8,0.9,1.0],"labelExpr":"round(datum.value*10)%2==0 ? format(datum.value,'.1f') : ''","title":"Depth, μm","tickSize":-9,"labelPadding":22,"titlePadding":6}},
"y":{"field":"y","type":"quantitative","scale":{"domain":[0,100],"nice":false},"axis":{"orient":"left","values":[0,10,20,30,40,50,60,70,80,90,100],"title":"Atomic concentration, percent","tickSize":-14,"labelPadding":25,"titlePadding":3}},
"strokeDash":{"field":"el","type":"nominal","scale":{"domain":["Si","C","B","N","O"],"range":[[1,0],[13,5],[2,3],[10,4,2,4],[6,4,2,4,2,4]]},"legend":null}}},
{"data":{"name":"lb"},"mark":{"type":"text"},
"encoding":{"x":{"field":"x","type":"quantitative","axis":null},"y":{"field":"y","type":"quantitative","axis":null},"text":{"field":"t"},
"size":{"condition":{"test":"length(datum.t)>3 && datum.t!='(b)'","value":21},"value":20}}},
{"data":{"name":"one"},"mark":{"type":"point","opacity":0},
"encoding":{"x":{"field":"x","type":"quantitative","axis":{"orient":"top","values":[0,0.1,0.2,0.3,0.4,0.5,0.6,0.7,0.8,0.9,1.0],"labels":false,"title":null,"tickSize":-9}},"y":{"field":"y","type":"quantitative","axis":{"orient":"right","values":[0,10,20,30,40,50,60,70,80,90,100],"labels":false,"title":null,"tickSize":-14}}}}
],
"resolve":{"axis":{"x":"independent","y":"independent"}}}
]
}
